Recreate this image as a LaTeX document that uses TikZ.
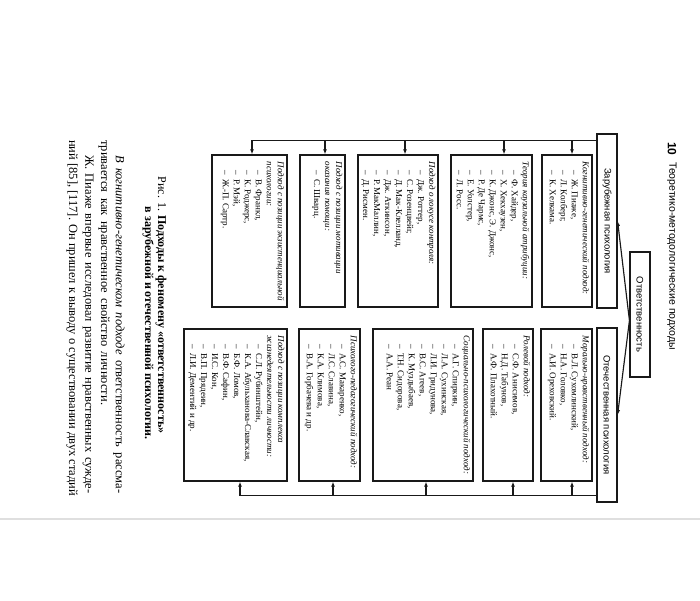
\documentclass[tikz,border=0pt]{standalone}
\usepackage{fontspec}
\setmainfont{Liberation Serif}
\setsansfont{Liberation Sans}
\usetikzlibrary{arrows.meta,calc}
\newcommand\li[1]{\hspace*{9pt}–\hspace{4pt}#1}
\newcommand\hd[1]{\textit{#1}}
\begin{document}
\begin{tikzpicture}[x=1pt,y=-1pt,
  ln/.style={line width=1.15pt, draw=black!90},
  bx/.style={ln, rectangle, inner sep=0pt},
  arr/.style={ln, -{Latex[length=5pt,width=3.8pt]}},
  txt/.style={rotate=-90, anchor=north west, inner sep=0pt, align=left, text=black, font=\fontsize{9}{11}\selectfont},
  lbl/.style={bx, font=\sffamily\fontsize{9.5}{11}\selectfont, text=black},
  rot/.style={rotate=-90, inner sep=0pt, text=black}
]
\useasboundingbox (0,0) rectangle (700,600);
\fill[white] (0,0) rectangle (700,600);
\draw[gray!25, line width=1.2pt] (0,519) -- (700,519);

% header
\node[rot, anchor=west, font=\sffamily\bfseries\fontsize{12}{14}\selectfont] (pg) at (672,142) {10};
\node[rot, anchor=west, font=\sffamily\fontsize{10.5}{12}\selectfont] (hdr) at (672,162) {Теоретико-методологические подходы};

% top boxes
\node[lbl, minimum width=20pt, minimum height=125pt] (otv) at (640,314.5) {\rotatebox{-90}{Ответственность}};
\node[lbl, minimum width=20pt, minimum height=174pt] (zar) at (607,221) {\rotatebox{-90}{Зарубежная психология}};
\node[lbl, minimum width=20pt, minimum height=174pt] (ote) at (607,415) {\rotatebox{-90}{Отечественная психология}};
\draw[arr] ([yshift=-6pt]otv.west) -- (zar.east);
\draw[arr] ([yshift=-6pt]otv.west) -- (ote.east);

% left column boxes
\node[bx, minimum width=50pt, minimum height=152pt] (b1) at (567,231) {};
\node[bx, minimum width=81pt, minimum height=152pt] (b2) at (491.5,231) {};
\node[bx, minimum width=80pt, minimum height=152pt] (b3) at (398,231) {};
\node[bx, minimum width=45pt, minimum height=152pt] (b4) at (322.5,231) {};
\node[bx, minimum width=75pt, minimum height=152pt] (b5) at (249.5,231) {};

% right column boxes
\node[bx, minimum width=51pt, minimum height=152pt] (r1) at (566.5,405) {};
\node[bx, minimum width=50pt, minimum height=152pt] (r2) at (508,405) {};
\node[bx, minimum width=100pt, minimum height=152pt] (r3) at (423,405) {};
\node[bx, minimum width=61pt, minimum height=152pt] (r4) at (329.5,405) {};
\node[bx, minimum width=103pt, minimum height=152pt] (r5) at (235.5,405) {};

% texts
\node[txt] (t1) at ($(b1.north east)+(-3,7)$) {\hd{Когнитивно-генетический подход:}\\ \li{Ж. Пиаже,}\\ \li{Л. Колберг,}\\ \li{К. Хелкама.}};
\node[txt] (t2) at ($(b2.north east)+(-3,7)$) {\hd{Теория каузальной атрибуции:}\\ \li{Ф. Хайдер,}\\ \li{Х. Хекхаузен,}\\ \li{К. Джонс, Э. Джонс,}\\ \li{Р. Де Чармс,}\\ \li{Е. Уолстер,}\\ \li{Л. Росс.}};
\node[txt] (t3) at ($(b3.north east)+(-3,7)$) {\hd{Подход о локусе контроля:}\\ \li{Дж. Роттер,}\\ \li{С. Розенцвейг,}\\ \li{Д. Мак-Клелланд,}\\ \li{Дж. Аткинсон,}\\ \li{Р. МакМаллин,}\\ \li{Д. Рисмен.}};
\node[txt] (t4) at ($(b4.north east)+(-3,7)$) {\hd{Подход с позиции мотивации}\\ \hd{оказания помощи:}\\ \li{С. Шварц.}};
\node[txt] (t5) at ($(b5.north east)+(-3,7)$) {\hd{Подход с позиции экзистенциальной}\\ \hd{психологии:}\\ \li{В. Франкл,}\\ \li{К. Роджерс,}\\ \li{Р. Мэй,}\\ \li{Ж.-П. Сартр.}};

\node[txt] (s1) at ($(r1.north east)+(-3,7)$) {\hd{Морально-нравственный подход:}\\ \li{В.Л. Сухомлинский,}\\ \li{Н.А. Головко,}\\ \li{А.И. Ореховский.}};
\node[txt] (s2) at ($(r2.north east)+(-3,7)$) {\hd{Ролевой подход:}\\ \li{С.Ф. Анисимов,}\\ \li{Н.Д. Табунов,}\\ \li{А.Ф. Плахотный.}};
\node[txt] (s3) at ($(r3.north east)+(-3,7)$) {\hd{Социально-психологический подход:}\\ \li{А.Г. Спиркин,}\\ \li{Л.А. Сухинская,}\\ \li{Л.И. Гридунова,}\\ \li{В.С. Агеев,}\\ \li{К. Муздыбаев,}\\ \li{Т.Н. Сидорова,}\\ \li{А.А. Реан}};
\node[txt] (s4) at ($(r4.north east)+(-3,7)$) {\hd{Психолого-педагогический подход:}\\ \li{А.С. Макаренко,}\\ \li{Л.С. Славина,}\\ \li{К.А. Климова,}\\ \li{В.А. Горбачева и др.}};
\node[txt] (s5) at ($(r5.north east)+(-3,7)$) {\hd{Подход с позиции комплекса}\\ \hd{жизнедеятельности личности:}\\ \li{С.Л. Рубинштейн,}\\ \li{К.А. Абульханова-Славская,}\\ \li{Б.Ф. Ломов,}\\ \li{В.Ф. Сафин,}\\ \li{И.С. Кон,}\\ \li{В.П. Прядеин,}\\ \li{Л.И. Дементий и др.}};

% left spine
\coordinate (ls) at ([yshift=-7pt]zar.north west);
\coordinate (a1) at ([xshift=5pt]b1.north);
\coordinate (a2) at ([xshift=12.5pt]b2.north);
\coordinate (a3) at ([xshift=7pt]b3.north);
\coordinate (a4) at ([xshift=2.5pt]b4.north);
\coordinate (a5) at ([xshift=2.5pt]b5.north);
\draw[arr] (ls) -| (a5);
\foreach \c in {a1,a2,a3,a4} \draw[arr] (\c |- ls) -- (\c);

% right spine
\coordinate (rs) at ([yshift=7pt]ote.south west);
\coordinate (c1) at ([xshift=5.5pt]r1.south);
\coordinate (c2) at ([xshift=5pt]r2.south);
\coordinate (c3) at ([xshift=3pt]r3.south);
\coordinate (c4) at ([xshift=3.5pt]r4.south);
\coordinate (c5) at ([xshift=4.5pt]r5.south);
\draw[arr] (rs) -| (c5);
\foreach \c in {c1,c2,c3,c4} \draw[arr] (\c |- rs) -- (\c);

% caption
\node[rot, font=\fontsize{12}{14}\selectfont] (cap1) at (161,305) {Рис. 1. \textbf{Подходы к феномену «ответственность»}};
\node[rot, font=\fontsize{12}{14}\selectfont] (cap2) at (148,323) {\textbf{в зарубежной и отечественной психологии.}};

% body text
\node[rot, anchor=west, font=\fontsize{12.5}{15}\selectfont] (p1) at (119,155) {\makebox[338pt][s]{\textit{В когнитивно-генетическом подходе} ответственность рассма-}};
\node[rot, anchor=west, font=\fontsize{12.5}{15}\selectfont] (p2) at (104,140) {\makebox[265pt][s]{тривается как нравственное свойство личности.}};
\node[rot, anchor=west, font=\fontsize{12.5}{15}\selectfont] (p3) at (88,155) {\makebox[338pt][s]{Ж. Пиаже впервые исследовал развитие нравственных сужде-}};
\node[rot, anchor=west, font=\fontsize{12.5}{15}\selectfont] (p4) at (72,140) {\makebox[356pt][s]{ний [85], [117]. Он пришел к выводу о существовании двух стадий}};
\end{tikzpicture}
\end{document}
